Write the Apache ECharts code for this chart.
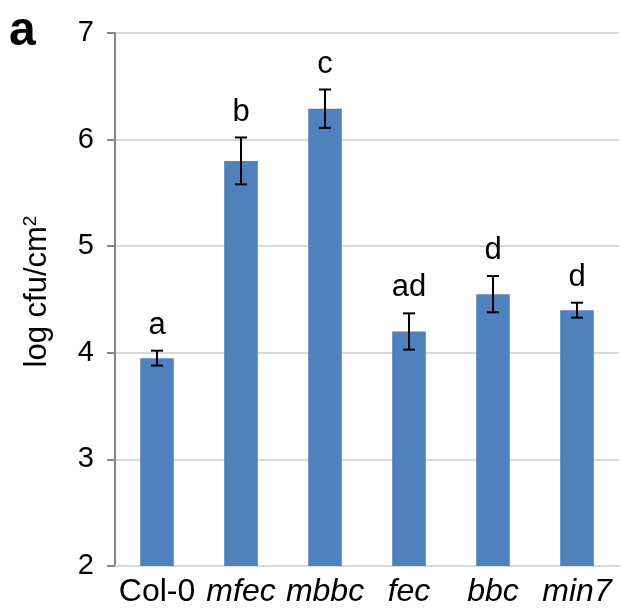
<!DOCTYPE html>
<html>
<head>
<meta charset="utf-8">
<script src="https://cdn.jsdelivr.net/npm/echarts@6/dist/echarts.min.js"></script>
<style>
  html, body { margin: 0; padding: 0; background: #ffffff; }
  #chart { width: 621px; height: 614px; }
</style>
</head>
<body>
<div id="chart"></div>
<script>
// Bacterial growth per genotype (mean ± error) with significance groups
const categories = ['Col-0', 'mfec', 'mbbc', 'fec', 'bbc', 'min7'];
const italicCategory = [false, true, true, true, true, true];
const means = [3.95, 5.80, 6.29, 4.20, 4.55, 4.40];
const errors = [0.07, 0.22, 0.18, 0.17, 0.17, 0.07];
const groups = ['a', 'b', 'c', 'ad', 'd', 'd'];
const yMin = 2, yMax = 7, yStep = 1;

const FONT = '"Liberation Sans", Arial, sans-serif';
const chart = echarts.init(document.getElementById('chart'), null, { renderer: 'canvas' });

chart.setOption({
  animation: false,
  backgroundColor: '#ffffff',
  textStyle: { fontFamily: FONT },
  graphic: [{
    type: 'text', left: 9, top: 8,
    style: { text: 'a', font: 'bold 48px ' + FONT, fill: '#000' }
  }],
  grid: { left: 115, right: 2, top: 33, bottom: 48 },
  xAxis: {
    type: 'category',
    data: categories,
    axisLine: { lineStyle: { color: '#d9d9d9', width: 2 } },
    axisTick: { show: false },
    axisLabel: {
      margin: 10,
      formatter: (v, i) => (italicCategory[i] ? '{i|' + v + '}' : '{n|' + v + '}'),
      rich: {
        n: { fontSize: 32, color: '#000', fontFamily: FONT },
        i: { fontSize: 32, color: '#000', fontFamily: FONT, fontStyle: 'italic' }
      }
    }
  },
  yAxis: {
    type: 'value',
    min: yMin, max: yMax, interval: yStep,
    name: '{b|log cfu/cm}{s|2}',
    nameLocation: 'middle',
    nameGap: 62,
    nameRotate: 90,
    nameTextStyle: {
      padding: [0, 0, 0, 16],
      rich: {
        b: { fontSize: 31, color: '#000', fontFamily: FONT, lineHeight: 32 },
        s: { fontSize: 19, color: '#000', fontFamily: FONT, verticalAlign: 'top', lineHeight: 19 }
      }
    },
    axisLine: { show: true, lineStyle: { color: '#868686', width: 2 } },
    axisTick: { show: true, length: 8, lineStyle: { color: '#868686', width: 2 } },
    axisLabel: { fontSize: 29, color: '#000', margin: 21 },
    splitLine: { lineStyle: { color: '#d9d9d9', width: 2 } }
  },
  series: [
    {
      type: 'bar',
      data: means,
      barWidth: '40%',
      itemStyle: { color: '#4f81bd' },
      z: 2
    },
    {
      type: 'custom',
      z: 3,
      data: means.map((m, i) => [i, m - errors[i], m + errors[i]]),
      renderItem: (params, api) => {
        const i = api.value(0);
        const lo = api.coord([i, api.value(1)]);
        const hi = api.coord([i, api.value(2)]);
        const x = hi[0];
        const cap = 6;
        const style = { stroke: '#000', lineWidth: 2 };
        return {
          type: 'group',
          children: [
            { type: 'line', shape: { x1: x, y1: hi[1], x2: x, y2: lo[1] }, style },
            { type: 'line', shape: { x1: x - cap, y1: hi[1], x2: x + cap, y2: hi[1] }, style },
            { type: 'line', shape: { x1: x - cap, y1: lo[1], x2: x + cap, y2: lo[1] }, style },
            {
              type: 'text',
              x: x, y: hi[1] - 10,
              style: {
                text: groups[i], font: '31px ' + FONT, fill: '#000',
                textAlign: 'center', textVerticalAlign: 'bottom'
              }
            }
          ]
        };
      }
    }
  ]
});
</script>
</body>
</html>
